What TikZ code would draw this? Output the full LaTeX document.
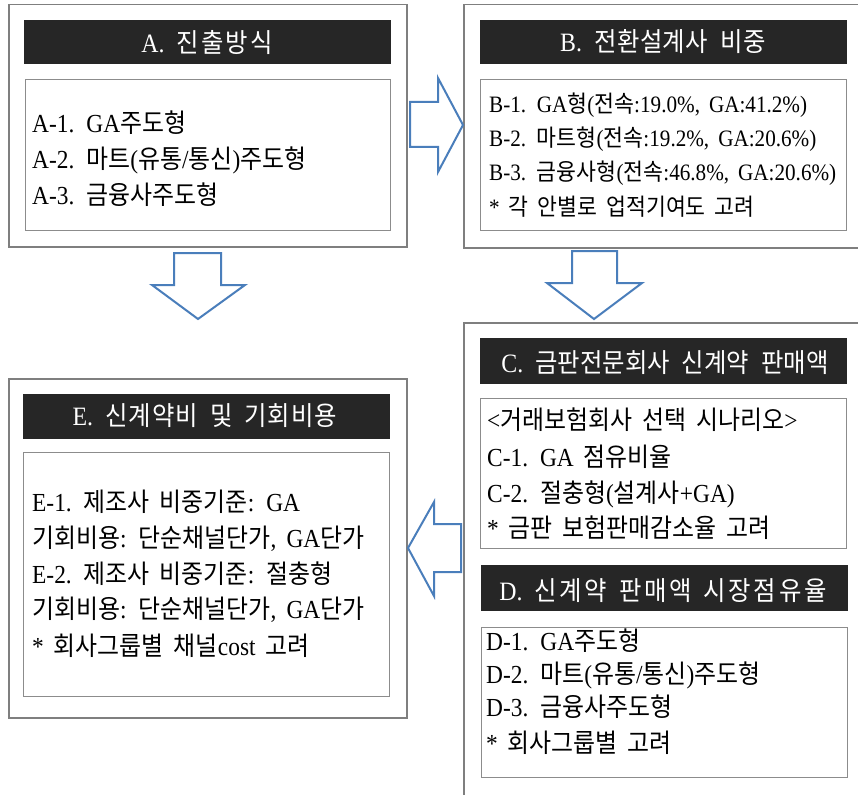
\documentclass[tikz,border=0pt]{standalone}
\usepackage{fontspec}
\setmainfont{Liberation Serif}
\newfontfamily\latf[FakeStretch=0.9]{Liberation Serif}
\newfontfamily\krbase[FakeStretch=0.92]{Noto Sans CJK KR}
\newcommand\krextra{}
\newcommand\krf{\krbase\krextra}
\XeTeXinterchartokenstate=1
\newXeTeXintercharclass\hcls
\newcount\hcnt
\hcnt="AC00
\loop\ifnum\hcnt<"D7A4 \XeTeXcharclass\hcnt=\hcls \advance\hcnt by 1 \repeat
\XeTeXinterchartoks 0 \hcls={\krf}
\XeTeXinterchartoks 4095 \hcls={\krf}
\XeTeXinterchartoks \hcls 0={\latf}
\XeTeXinterchartoks \hcls 4095={\latf}
\newcommand\bodyfont{\fontsize{26}{30}\latf\spaceskip=10pt\relax}
\newcommand\bfont{\fontsize{23.5}{28}\latf\spaceskip=9pt\relax}
\newcommand\hdrfont{\fontsize{26.5}{31}\latf\spaceskip=12pt\relax}
\definecolor{obox}{HTML}{7F7F7F}
\definecolor{ibox}{HTML}{8C8C8C}
\definecolor{hdr}{HTML}{262626}
\definecolor{arr}{HTML}{4A7EBB}
\tikzset{
  outerbox/.style={draw=obox, line width=1.5pt, anchor=north west, inner sep=0pt},
  innerbox/.style={draw=ibox, line width=1.2pt, fill=white, anchor=north west, inner sep=0pt},
  hdrbox/.style={fill=hdr, draw=hdr, line width=0.8pt, anchor=north west, inner sep=0pt},
  hdrtxt/.style={text=white, anchor=base, inner sep=0pt, font=\hdrfont},
  txt/.style={anchor=base west, inner sep=0pt, font=\bodyfont},
  btxt/.style={anchor=base west, inner sep=0pt, font=\bfont},
  blockarrow/.style={draw=arr, line width=2pt, fill=white, line join=miter},
}
\begin{document}
\begin{tikzpicture}[x=1pt,y=-1pt]
\useasboundingbox (0,0) rectangle (858,794);
\clip (0,0) rectangle (858,794);
\fill[white] (0,0) rectangle (858,794);
% outer boxes
\node[outerbox, minimum width=398pt, minimum height=242pt] (Aout) at (8,4) {};
\node[outerbox, minimum width=407pt, minimum height=243pt] (Bout) at (463,4) {};
\node[outerbox, minimum width=407pt, minimum height=490pt] (Cout) at (463,322) {};
\node[outerbox, minimum width=398pt, minimum height=339pt] (Eout) at (8,378) {};
% headers
\node[hdrbox, minimum width=366pt, minimum height=43pt] (Ahd) at (24,20) {};
\node[hdrbox, minimum width=366pt, minimum height=43pt] (Bhd) at (480,20) {};
\node[hdrbox, minimum width=366pt, minimum height=45pt] (Chd) at (480,338) {};
\node[hdrbox, minimum width=366pt, minimum height=45pt] (Dhd) at (481,565) {};
\node[hdrbox, minimum width=366pt, minimum height=44pt] (Ehd) at (23,394) {};
% inner boxes
\node[innerbox, minimum width=365pt, minimum height=151pt] (Ain) at (25,79) {};
\node[innerbox, minimum width=366pt, minimum height=151pt] (Bin) at (480,79) {};
\node[innerbox, minimum width=366pt, minimum height=150pt] (Cin) at (480,398) {};
\node[innerbox, minimum width=366pt, minimum height=150pt] (Din) at (481,627) {};
\node[innerbox, minimum width=366pt, minimum height=244pt] (Ein) at (23,452) {};
% header texts
\node[hdrtxt] (Aht) at (207,53) {\renewcommand\krextra{\addfontfeature{LetterSpace=8}}A. 진출방식};
\node[hdrtxt] (Bht) at (663,52) {\renewcommand\krextra{\addfontfeature{LetterSpace=2}}B. 전환설계사 비중};
\node[hdrtxt] (Cht) at (665,372) {C. 금판전문회사 신계약 판매액};
\node[hdrtxt] (Dht) at (663,600) {\renewcommand\krextra{\addfontfeature{LetterSpace=10}}D. 신계약 판매액 시장점유율};
\node[hdrtxt] (Eht) at (205,425) {\renewcommand\krextra{\addfontfeature{LetterSpace=4}}E. 신계약비 및 기회비용};
% A texts
\node[txt] (a1) at (32,133) {A-1. GA주도형};
\node[txt] (a2) at (32,169) {A-2. 마트(유통/통신)주도형};
\node[txt] (a3) at (32,205) {A-3. 금융사주도형};
% B texts
\node[btxt] (b1) at (489,113) {B-1. GA형(전속:19.0\%, GA:41.2\%)};
\node[btxt] (b2) at (489,147) {B-2. 마트형(전속:19.2\%, GA:20.6\%)};
\node[btxt] (b3) at (489,181) {B-3. 금융사형(전속:46.8\%, GA:20.6\%)};
\node[btxt] (b4) at (489,215) {* 각 안별로 업적기여도 고려};
% C texts
\node[txt] (c0) at (487,429) {<거래보험회사 선택 시나리오>};
\node[txt] (c1) at (487,466) {C-1. GA 점유비율};
\node[txt] (c2) at (487,502) {C-2. 절충형(설계사+GA)};
\node[txt] (c3) at (487,537) {* 금판 보험판매감소율 고려};
% D texts
\node[txt] (d1) at (486,650) {D-1. GA주도형};
\node[txt] (d2) at (486,683) {D-2. 마트(유통/통신)주도형};
\node[txt] (d3) at (486,716) {D-3. 금융사주도형};
\node[txt] (d4) at (486,752) {* 회사그룹별 고려};
% E texts
\node[txt] (e1) at (32,511) {E-1. 제조사 비중기준: GA};
\node[txt] (e2) at (32,547) {기회비용: 단순채널단가, GA단가};
\node[txt] (e3) at (32,583) {E-2. 제조사 비중기준: 절충형};
\node[txt] (e4) at (32,618) {기회비용: 단순채널단가, GA단가};
\node[txt] (e5) at (32,655) {* 회사그룹별 채널cost 고려};
% block arrows
\draw[blockarrow] (410,102) -- (438,102) -- (438,78) -- (463,125) -- (438,172) -- (438,147) -- (410,147) -- cycle;
\draw[blockarrow] (174,253) -- (221,253) -- (221,285) -- (245,285) -- (198,319) -- (152,285) -- (174,285) -- cycle;
\draw[blockarrow] (572,251) -- (617,251) -- (617,283) -- (642,283) -- (594,319) -- (547,283) -- (572,283) -- cycle;
\draw[blockarrow] (461,524) -- (434,524) -- (434,502) -- (408,548) -- (434,596) -- (434,572) -- (461,572) -- cycle;
\end{tikzpicture}
\end{document}
